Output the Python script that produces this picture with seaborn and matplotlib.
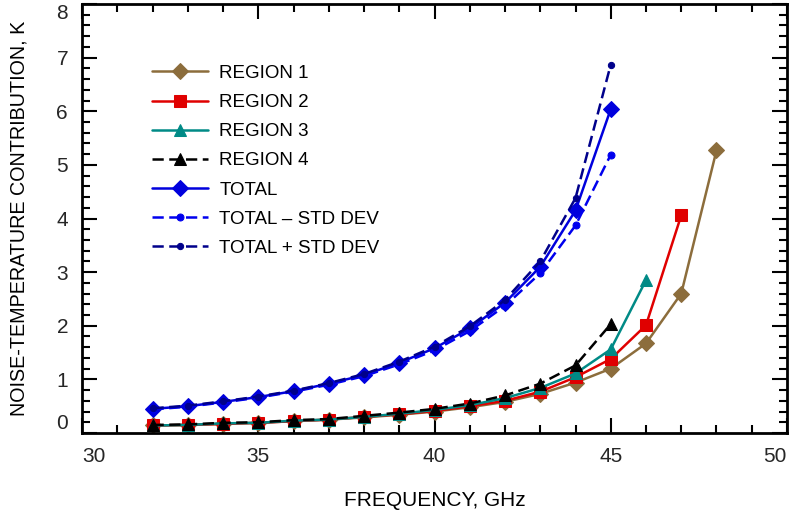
import matplotlib
matplotlib.use("Agg")
import matplotlib.pyplot as plt
from matplotlib.ticker import MultipleLocator
import seaborn as sns
import numpy as np

sns.set_theme(style="white")
plt.rcParams['font.family'] = ['Liberation Sans', 'DejaVu Sans']

freq_all = [32, 33, 34, 35, 36, 37, 38, 39, 40, 41, 42, 43, 44, 45, 46, 47, 48]

region1 = [0.14, 0.15, 0.17, 0.19, 0.22, 0.25, 0.29, 0.34, 0.40, 0.48, 0.58, 0.73, 0.94, 1.20, 1.67, 2.60, 5.27]
freq_r2 = freq_all[:16]
region2 = [0.14, 0.15, 0.17, 0.19, 0.22, 0.25, 0.30, 0.35, 0.41, 0.50, 0.60, 0.77, 1.04, 1.38, 2.01, 4.06]
freq_r3 = freq_all[:15]
region3 = [0.14, 0.15, 0.18, 0.19, 0.23, 0.25, 0.30, 0.36, 0.43, 0.52, 0.65, 0.84, 1.11, 1.56, 2.85]
freq_r4 = freq_all[:14]
region4 = [0.15, 0.16, 0.19, 0.20, 0.24, 0.26, 0.32, 0.38, 0.45, 0.55, 0.70, 0.92, 1.26, 2.03]

freq_tot = freq_all[:14]
total = [0.45, 0.50, 0.58, 0.67, 0.78, 0.92, 1.08, 1.31, 1.58, 1.95, 2.43, 3.10, 4.15, 6.04]
total_minus = [0.44, 0.49, 0.57, 0.66, 0.77, 0.90, 1.06, 1.28, 1.54, 1.90, 2.37, 2.98, 3.87, 5.19]
total_plus = [0.46, 0.51, 0.59, 0.68, 0.79, 0.93, 1.10, 1.33, 1.61, 1.99, 2.48, 3.20, 4.38, 6.87]

fig = plt.figure(figsize=(7.91, 5.14), dpi=100)
ax = fig.add_axes([82/791, 1-433/514, (787-82)/791, (433-4)/514])

dash = (4.5, 2.2)
series = [
    (freq_all, region1, "REGION 1", "#8c6d3c", "D", 8.5, "-"),
    (freq_r2, region2, "REGION 2", "#e00000", "s", 8.5, "-"),
    (freq_r3, region3, "REGION 3", "#008a86", "^", 8, "-"),
    (freq_r4, region4, "REGION 4", "#000000", "^", 8, "--"),
    (freq_tot, total, "TOTAL", "#0000dd", "D", 8.5, "-"),
    (freq_tot, total_minus, "TOTAL \u2013 STD DEV", "#0000ee", "o", 5, "--"),
    (freq_tot, total_plus, "TOTAL + STD DEV", "#00008b", "o", 4.5, "--"),
]

for x, y, lab, col, mk, ms, ls in series:
    sns.lineplot(x=x, y=y, ax=ax, color=col, marker=mk, markersize=ms,
                 markeredgecolor=col, markerfacecolor=col, linewidth=1.8,
                 label=lab, sort=False)
for line, (x, y, lab, col, mk, ms, ls) in zip(ax.get_lines(), series):
    if ls == "--":
        line.set_dashes(dash)

ax.set_xlim(30, 50)
ax.set_ylim(0, 8)
ax.xaxis.set_major_locator(MultipleLocator(5))
ax.xaxis.set_minor_locator(MultipleLocator(1))
ax.yaxis.set_major_locator(MultipleLocator(1))
ax.yaxis.set_minor_locator(MultipleLocator(0.2))
ax.tick_params(which='both', direction='in', top=True, right=True,
               bottom=True, left=True, color='black', width=1.5)
ax.tick_params(which='major', length=11, labelsize=15, pad=10)
ax.tick_params(which='minor', length=6)
for s in ax.spines.values():
    s.set_color('black')
    s.set_linewidth(2)

fig.canvas.draw()
for t in ax.get_yticklabels():
    if t.get_text() == '8':
        t.set_va('top')
    elif t.get_text() == '0':
        t.set_va('bottom')
for t in ax.get_xticklabels():
    if t.get_text() == '30':
        t.set_ha('left')
    elif t.get_text() == '50':
        t.set_ha('right')

ax.set_xlabel("FREQUENCY, GHz", fontsize=15, labelpad=18, color='black')
ax.set_ylabel("NOISE-TEMPERATURE CONTRIBUTION, K", fontsize=14.2, labelpad=20, color='black')

leg = ax.legend(loc='upper left', bbox_to_anchor=(0.099, 0.858), frameon=False,
                fontsize=13.5, handlelength=3.0, handletextpad=0.6,
                labelspacing=0.64, borderpad=0, borderaxespad=0)
for t in leg.get_texts():
    t.set_color('black')

fig.savefig("out.png", dpi=100)
